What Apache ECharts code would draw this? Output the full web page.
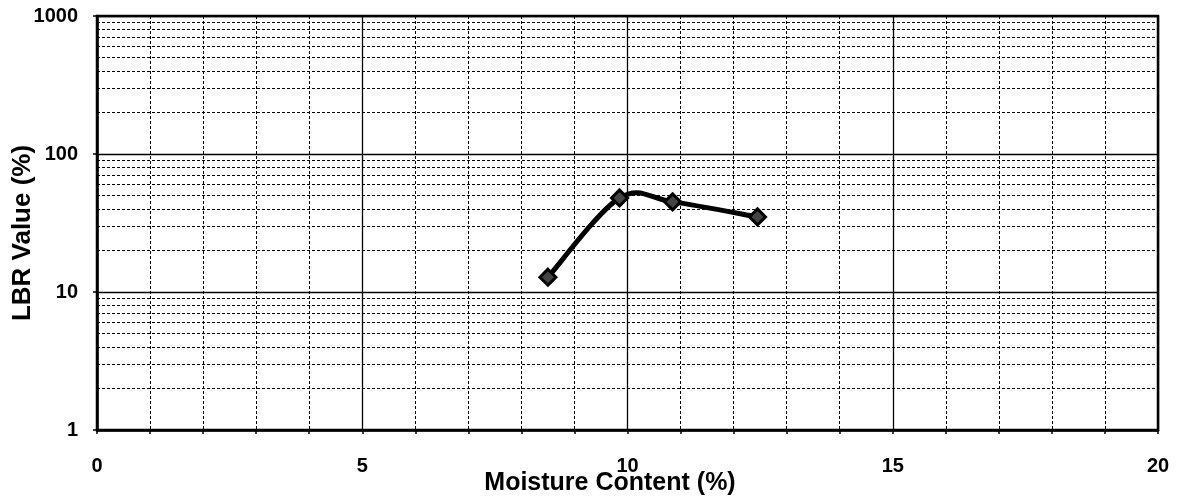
<!DOCTYPE html>
<html>
<head>
<meta charset="utf-8">
<script src="https://cdn.jsdelivr.net/npm/echarts@6/dist/echarts.min.js"></script>
<style>
html,body{margin:0;padding:0;background:#fff;}
#chart{width:1178px;height:499px;}
</style>
</head>
<body>
<div id="chart"></div>
<script>
const moisture = [8.5, 9.85, 10.85, 12.45];
const lbr = [12.8, 48, 45, 35];
const xMajorTicks = [0, 5, 10, 15, 20];
const yDecadeTicks = [1, 10, 100, 1000];
const yMinorGrid = [2,3,4,5,6,7,8,9,20,30,40,50,60,70,80,90,200,300,400,500,600,700,800,900];

const FONT = '"Liberation Sans", Arial, sans-serif';
const chart = echarts.init(document.getElementById('chart'));
const points = moisture.map((m, i) => [m, lbr[i]]);

// Excel-like smoothed line (Catmull-Rom style Bezier), computed in pixel space via the axes
function renderSmooth(params, api) {
  const i = params.dataIndex;
  if (i >= points.length - 1) return null;
  const P = points.map(p => api.coord(p));
  const p0 = P[Math.max(i - 1, 0)], p1 = P[i], p2 = P[i + 1], p3 = P[Math.min(i + 2, P.length - 1)];
  const k = 1 / 6;
  return {
    type: 'bezierCurve',
    shape: {
      x1: p1[0], y1: p1[1], x2: p2[0], y2: p2[1],
      cpx1: p1[0] + (p2[0] - p0[0]) * k, cpy1: p1[1] + (p2[1] - p0[1]) * k,
      cpx2: p2[0] - (p3[0] - p1[0]) * k, cpy2: p2[1] - (p3[1] - p1[1]) * k
    },
    style: { stroke: '#000', lineWidth: 5, fill: null, lineCap: 'round' }
  };
}

const option = {
  backgroundColor: '#fff',
  animation: false,
  grid: { left: 97, right: 20, top: 16, bottom: 69, outerBoundsMode: 'none', containLabel: false,
    show: true, borderColor: '#000', borderWidth: 2.5, backgroundColor: 'transparent' },
  xAxis: [
    {
      type: 'value', min: 0, max: 20, interval: 5,
      name: 'Moisture Content (%)', nameLocation: 'middle', nameGap: 41, nameMoveOverlap: false,
      nameTextStyle: { fontFamily: FONT, fontWeight: 'bold', fontSize: 25, color: '#000', padding: [0, 35, 0, 0] },
      axisLine: { show: true, lineStyle: { color: '#000', width: 2.5 } },
      axisTick: { show: false },
      axisLabel: { margin: 26, fontFamily: FONT, fontWeight: 'bold', fontSize: 20, color: '#000',
        formatter: v => xMajorTicks.includes(v) ? String(v) : '' },
      splitLine: { show: true, lineStyle: { color: '#000', width: 1.3, type: 'solid' } },
      z: 3
    },
    {
      type: 'value', min: 0, max: 20, interval: 1, position: 'bottom',
      axisLine: { show: false },
      axisTick: { show: true, inside: false, length: 4, lineStyle: { color: '#000', width: 1.5 } },
      axisLabel: { show: false },
      splitLine: { show: true, lineStyle: { color: '#000', width: 1, type: [3, 2] } },
      z: 1
    }
  ],
  yAxis: {
    type: 'log', logBase: 10, min: 1, max: 1000,
    name: 'LBR Value (%)', nameLocation: 'middle', nameGap: 61, nameRotate: 90, nameMoveOverlap: false,
    nameTextStyle: { fontFamily: FONT, fontWeight: 'bold', fontSize: 26, color: '#000', padding: [0, 20, 0, 0] },
    axisLine: { show: true, lineStyle: { color: '#000', width: 2.5 } },
    axisTick: { show: true, length: 4, lineStyle: { color: '#000', width: 1.5 } },
    axisLabel: { margin: 19, fontFamily: FONT, fontWeight: 'bold', fontSize: 20, color: '#000',
      formatter: v => yDecadeTicks.includes(Math.round(v)) ? String(Math.round(v)) : '' },
    splitLine: { show: true, lineStyle: { color: '#000', width: 1.3 } }
  },
  series: [
    {
      type: 'custom',
      xAxisIndex: 0,
      data: points,
      renderItem: renderSmooth,
      silent: true,
      z: 9,
      markLine: {
        silent: true,
        symbol: 'none',
        label: { show: false },
        lineStyle: { color: '#000', width: 1, type: [3, 2] },
        data: yMinorGrid.map(v => ({ yAxis: v })),
        z: 1
      }
    },
    {
      type: 'scatter',
      xAxisIndex: 0,
      data: points,
      symbol: 'diamond',
      symbolSize: 16,
      itemStyle: { color: '#444', borderColor: '#000', borderWidth: 3, opacity: 1 },
      z: 10
    }
  ]
};
chart.setOption(option);
</script>
</body>
</html>
